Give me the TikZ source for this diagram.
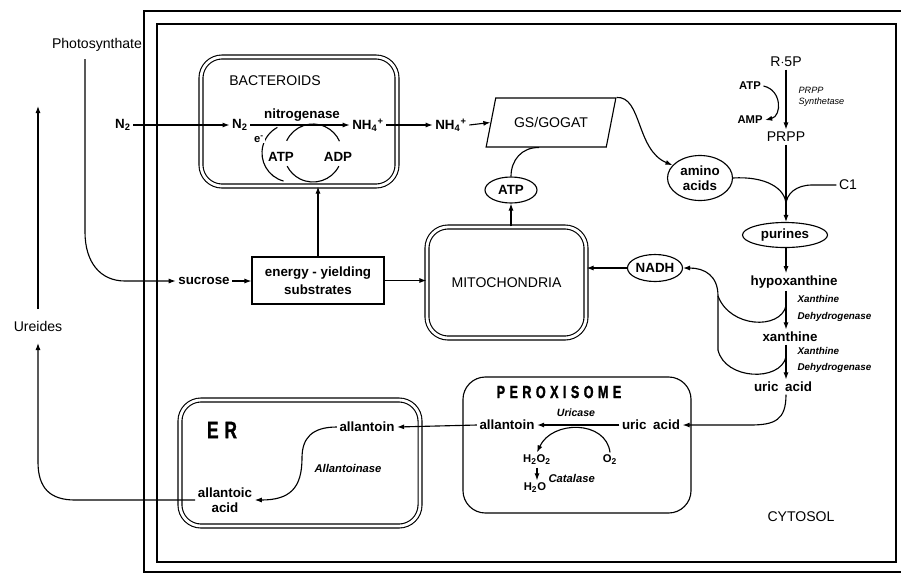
\documentclass[tikz,border=0pt]{standalone}
\usepackage{fontspec}
\setmainfont{Liberation Sans}
\newfontfamily\condfont{Liberation Sans}[FakeStretch=0.72,LetterSpace=25,FakeBold=1.2]
\usetikzlibrary{shapes.geometric,arrows.meta,positioning,calc}
\newcommand{\ammonium}{NH\textsubscript{4}\textsuperscript{+}}

\begin{document}
\begin{tikzpicture}[
    x=0.025cm, y=-0.025cm, line width=0.8pt,
    lbl/.style={font=\fontsize{9.5}{11}\selectfont\bfseries, inner sep=1.5pt, align=center},
    caplbl/.style={font=\fontsize{10}{12}\selectfont, inner sep=1.5pt},
    enz/.style={font=\fontsize{7}{11.5}\selectfont\bfseries\itshape, inner sep=0pt, align=left, anchor=west},
    chem/.style={font=\fontsize{8}{9.5}\selectfont\bfseries, inner sep=1.5pt},
    orgtitle/.style={font=\condfont\bfseries\fontsize{12.5}{14}\selectfont, inner sep=0pt},
    organelle/.style={draw, double, double distance=2pt, rounded corners=15pt},
    pool/.style={draw, ellipse, inner sep=0pt, font=\fontsize{9.5}{11}\selectfont\bfseries, align=center},
    flow/.style={-{Latex[length=5pt,width=3.6pt]}}
  ]
  \useasboundingbox (0,0) rectangle (901,574);
  \draw[line width=0.9pt] (144,11) rectangle (915,572);
  \draw[line width=0.9pt] (157,24) rectangle (896,562);

  \node[caplbl] (photo) at (97,45) {Photosynthate};
  \coordinate (photoend) at (85,59);
  \node[caplbl, inner ysep=8pt] (ureides) at (38,326) {Ureides};
  \coordinate (ureidtop) at (38,106);
  \node[lbl] (sucrose) at (204,281) {sucrose};

  \node[organelle, minimum width=4.9cm, minimum height=3.225cm] (bact) at (299,121.5) {};
  \node[caplbl] (bacttitle) at (275,81) {BACTEROIDS};
  \node[lbl] (n2out) at (123,125) {N\textsubscript{2}};
  \node[lbl] (n2in) at (240,125) {N\textsubscript{2}};
  \node[lbl] (nh4in) at (368,125) {\ammonium};
  \node[lbl] (nitro) at (302,115) {nitrogenase};
  \draw (291,153) ++(105:29) arc[start angle=105, end angle=242, radius=29];
  \draw (313,153) ++(205:29) arc[start angle=205, end angle=336, radius=29];
  \draw (313,153) ++(27:29) arc[start angle=27, end angle=153, radius=29];
  \node[chem, fill=white, inner sep=0.5pt] (eminus) at (259,139) {e\textsuperscript{-}};
  \node[lbl] (atpb) at (281,157) {ATP};
  \node[lbl] (adpb) at (338,157) {ADP};
  \node[lbl] (nh4out) at (451,125) {\ammonium};

  \node[draw, lbl, font=\fontsize{9.5}{12.5}\selectfont\bfseries, minimum width=3.3cm, minimum height=1.175cm] (energy) at (318,280.5) {energy - yielding\\substrates};
  \node[organelle, caplbl, minimum width=3.975cm, minimum height=2.775cm] (mito) at (506.5,282.5) {MITOCHONDRIA};
  \node[pool, minimum width=1.3cm, minimum height=0.65cm] (atpm) at (511,190) {ATP};
  \node[pool, minimum width=1.375cm, minimum height=0.675cm] (nadh) at (655,268) {NADH};
  \node[draw, caplbl, trapezium, trapezium left angle=65, trapezium right angle=115, trapezium stretches=true, minimum width=3.25cm, minimum height=1.225cm] (gs) at (551,122.5) {GS/GOGAT};
  \node[pool, minimum width=1.625cm, minimum height=1.125cm] (amino) at (700,178) {amino\\acids};

  \node[caplbl] (r5p) at (786,62) {R$\cdot$5P};
  \node[caplbl] (prpp) at (786,137) {PRPP};
  \node[chem] (atpr) at (750,86) {ATP};
  \node[chem] (ampr) at (750,120) {AMP};
  \node[enz, font=\fontsize{6.5}{8}\selectfont\itshape] (prpps) at (798,97) {PRPP\\Synthetase};
  \node[caplbl] (c1) at (848,185) {C1};
  \coordinate (spine) at (786,0);
  \coordinate (merge) at (786,205);
  \node[pool, minimum width=2.125cm, minimum height=0.625cm] (purines) at (785,235) {purines};
  \node[lbl] (hypox) at (794,282) {hypoxanthine};
  \node[enz] (xdh1) at (797,308.5) {Xanthine\\Dehydrogenase};
  \node[lbl] (xanth) at (790,337) {xanthine};
  \node[enz] (xdh2) at (797,360) {Xanthine\\Dehydrogenase};
  \node[lbl] (uric) at (783,387) {uric\enspace acid};

  \node[draw, rounded corners=16pt, minimum width=5.7cm, minimum height=3.4cm] (perox) at (577,445) {};
  \node[orgtitle] (peroxtitle) at (559,392) {PEROXISOME};
  \node[lbl] (puric) at (651,425) {uric\enspace acid};
  \node[lbl] (pallant) at (507,425) {allantoin};
  \node[chem, font=\fontsize{7.5}{9}\selectfont\bfseries\itshape] (uricase) at (576,413) {Uricase};
  \node[chem] (o2) at (610,460) {O\textsubscript{2}};
  \node[chem] (h2o2) at (537,460) {H\textsubscript{2}O\textsubscript{2}};
  \node[chem] (h2o) at (535,488) {H\textsubscript{2}O};
  \node[enz, font=\fontsize{8}{9}\selectfont\bfseries\itshape] (catalase) at (548,478) {Catalase};

  \node[organelle, minimum width=6cm, minimum height=3.15cm] (er) at (300,463) {};
  \node[orgtitle, font=\condfont\bfseries\fontsize{17}{19}\selectfont] (ertitle) at (222,430) {ER};
  \node[lbl] (eallant) at (367,427) {allantoin};
  \node[lbl, font=\fontsize{9.5}{10.6}\selectfont\bfseries] (allantoic) at (225,500) {allantoic\\acid};
  \node[enz, anchor=center, font=\fontsize{8}{9}\selectfont\bfseries\itshape] (allantoinase) at (348,468) {Allantoinase};

  \node[caplbl] (cytosol) at (801,517) {CYTOSOL};

  \draw[flow] (photoend) -- (85,232) .. controls (85,262) and (100,281) .. (125,281) -- (sucrose.west);
  \draw[flow] (ureides.north) -- (ureidtop);
  \draw[flow] (allantoic.west) -- (75,500) .. controls (50,500) and (38,488) .. (38,462) -- (ureides.south);

  \draw[flow] (n2out.east) -- (n2out.east -| n2in.west);
  \draw[flow] (n2in.east) -- (n2in.east -| nh4in.west);
  \draw[flow] (nh4in.east) -- (nh4in.east -| nh4out.west);
  \draw[flow] (nh4out.east) -- (gs.west);

  \draw[flow] (sucrose.east) -- (sucrose.east -| energy.west);
  \draw[flow] (energy.north) -- (energy.north |- bact.south);
  \draw[flow] (energy.east) -- (energy.east -| mito.west);
  \draw[flow] (atpm.south |- mito.north) -- (atpm.south);
  \draw (atpm.north) .. controls (511,160) and (522,147) .. ($(gs.south)+(-12,0)$);
  \draw[flow] (gs.top right corner) .. controls (642,96) and (636,150) .. (amino.155);
  \draw[flow] (nadh.west) -- (nadh.west -| mito.east);

  \draw[flow] (r5p.south -| spine) -- (prpp.north -| spine);
  \draw[flow] (atpr.east) .. controls (782,90) and (782,116) .. (ampr.east);
  \draw (prpp.south -| spine) -- (merge);
  \draw (amino.east) .. controls (765,176) and (786,188) .. (merge);
  \draw (c1.west) -- (812,185) .. controls (796,185) and (786,194) .. (merge);
  \draw[flow] (merge) -- (purines.north -| spine);
  \draw[flow] (purines.south -| spine) -- (hypox.north -| spine);
  \draw[flow] (hypox.south -| spine) -- (xanth.north -| spine);
  \draw[flow] (xanth.south -| spine) -- (uric.north -| spine);
  \draw (786,306) .. controls (780,330) and (730,328) .. (718,296);
  \draw (786,357) .. controls (780,382) and (725,380) .. (718,350);
  \draw[flow] (718,350) -- (718,296) .. controls (718,276) and (705,268) .. (nadh.east);
  \draw[flow] (uric.south -| spine) .. controls (786,420) and (775,425) .. (750,425) -- (puric.east);

  \draw[flow] (puric.west) -- (pallant.east);
  \draw[flow] (o2.north) .. controls (606,420) and (552,420) .. (h2o2.north);
  \draw[flow] (h2o2.south) -- (h2o2.south |- h2o.north);
  \draw[flow] (pallant.west) -- (eallant.east);
  \draw[flow] (eallant.west) .. controls (312,427) and (302,438) .. (302,458) .. controls (302,488) and (290,500) .. (allantoic.east);
\end{tikzpicture}
\end{document}
